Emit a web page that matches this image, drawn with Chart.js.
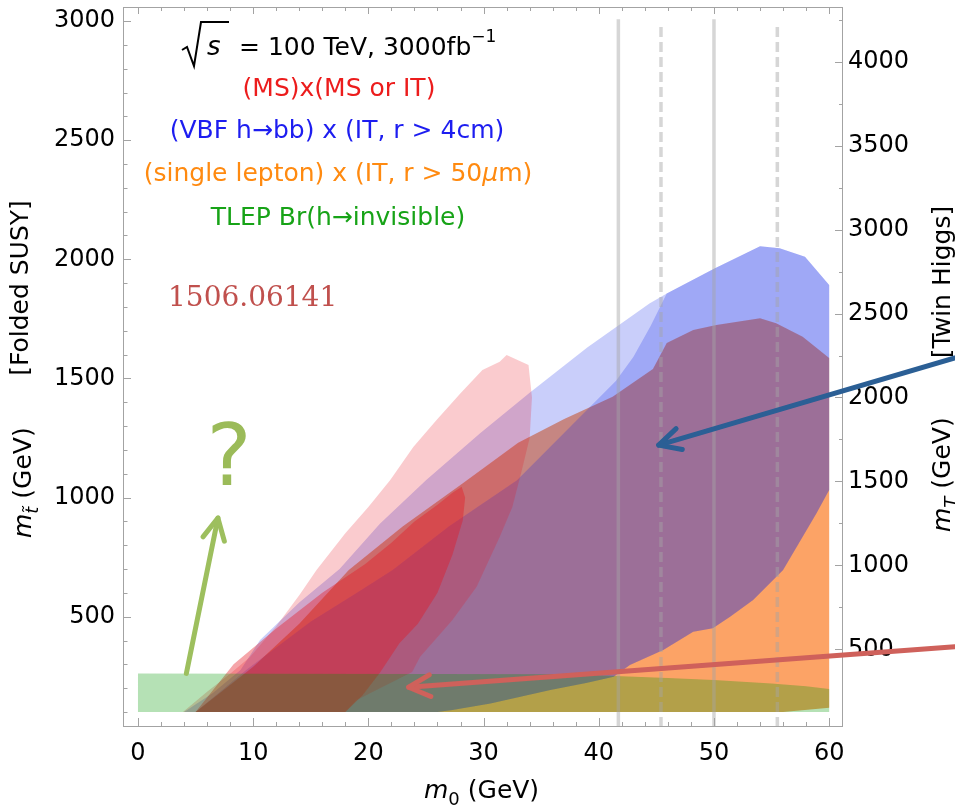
<!DOCTYPE html>
<html>
<head>
<meta charset="utf-8">
<title>Exotic Higgs decay reach</title>
<script src="https://cdn.jsdelivr.net/npm/chart.js@4.4.1/dist/chart.umd.min.js"></script>
<style>
  html, body { margin: 0; padding: 0; background: #fff; }
  #wrap { width: 955px; height: 808px; position: relative; }
</style>
</head>
<body>
<div id="wrap"><canvas id="reach"></canvas></div>
<script>
// reach regions, points are [m0, m_stop] in GeV, traced around each outline
const redOuter = [[3.9,100],[6,185],[8,260],[9.7,330],[12,460],[14,590],[15.5,696],[18,850],[20,960],[21.9,1074],[23.9,1212],[25.9,1325],[28,1438],[29.9,1535],[31.4,1570],[32,1598],[33.9,1556],[34.2,1420],[34,1250],[33.3,1110],[32.5,960],[31.4,834],[29.4,626],[27.3,486],[24.5,332],[23.8,268],[21,200],[19,150],[18,100]];
const redInner = [[5,100],[8.3,300],[12,450],[16,600],[19.7,720],[22,810],[24,900],[26,970],[27.3,1020],[28.1,1045],[28.4,1000],[28.2,905],[27.3,760],[26,600],[24.3,470],[22.7,389],[21,265],[19.5,170],[18,100]];
const blueOuter = [[4,100],[6.5,180],[8.9,276],[10.6,402],[14,560],[17.5,700],[21,890],[25,1073],[29.7,1270],[34,1440],[39,1630],[44.4,1815],[45.9,1857],[50,1960],[54,2055],[55.7,2046],[57.9,2011],[60,1892],[60,1032],[58.9,934],[57.7,836],[56,696],[53.4,570],[51.4,500],[49.9,452],[48.2,437],[45.6,360],[42.7,297],[41.3,248],[38.9,222],[35.8,192],[30.6,136],[27.3,108],[26,100]];
const blueInner = [[5,100],[9.5,280],[15,480],[19,600],[22.1,696],[27,880],[32.9,1073],[38,1320],[41.5,1490],[43,1590],[44.5,1720],[45.9,1857],[50,1960],[54,2055],[55.7,2046],[57.9,2011],[60,1892],[60,1032],[58.9,934],[57.7,836],[56,696],[53.4,570],[51.4,500],[49.9,452],[48.2,437],[45.6,360],[42.7,297],[41.3,248],[38.9,222],[35.8,192],[30.6,136],[27.3,108],[26,100]];
const orangeLepton = [[5,100],[10,290],[14,470],[18.3,696],[23,880],[28.2,1060],[33,1230],[37,1330],[41.2,1423],[44.7,1540],[45.9,1649],[48.2,1703],[50.2,1724],[54,1753],[55.4,1732],[57.7,1675],[60,1586],[60,118],[56,100]];
const greenTlep = [[0,100],[0,262],[38,258],[42,250],[46,243],[50,234],[55,220],[58,208],[60,196],[60,100]];

// m0 benchmark lines
const massLines = [41.7, 45.4, 50, 55.5];
const massLineDashed = [false, true, false, true];
const massLineTop = [3008, 2987, 3008, 2987];

// annotation arrows, [m0, m_stop] from tail to head
const arrowGreen = [[4.2, 262], [6.94, 914]];
const arrowBlue = [[70.9, 1586], [45.2, 1220]];
const arrowRed = [[70.9, 374], [23.5, 204]];

// axis ticks
const xTicks = [0, 10, 20, 30, 40, 50, 60];
const yTicks = [500, 1000, 1500, 2000, 2500, 3000];
const y2Ticks = [500, 1000, 1500, 2000, 2500, 3000, 3500, 4000];

const SANS = '"DejaVu Sans", sans-serif';
const tickFont = { family: '"DejaVu Sans"', size: 24 };

const region = (pts, color, order) => ({
  data: pts.map(([x, y]) => ({ x, y })),
  showLine: true,
  fill: 'shape',
  backgroundColor: color,
  borderColor: 'transparent',
  borderWidth: 0,
  pointRadius: 0,
  order
});

const datasets = [
  region(orangeLepton, 'rgba(250,120,30,0.68)', 20),
  region(blueOuter, 'rgba(10,30,230,0.22)', 19),
  region(blueInner, 'rgba(10,30,230,0.22)', 18),
  region(redOuter, 'rgba(230,20,30,0.22)', 17),
  region(redInner, 'rgba(230,20,30,0.385)', 16),
  region(greenTlep, 'rgba(0,150,0,0.29)', 15)
];
massLines.forEach((m, i) => {
  datasets.push({
    data: [{ x: m, y: 37 }, { x: m, y: massLineTop[i] }],
    showLine: true,
    fill: false,
    borderColor: 'rgba(165,165,165,0.45)',
    borderWidth: 3.5,
    borderDash: massLineDashed[i] ? [10, 5] : [],
    pointRadius: 0,
    order: 5
  });
});

function runs(ctx, parts, x, y) {
  let cx = x;
  for (const p of parts) {
    ctx.font = p.font;
    ctx.fillText(p.t, cx, y + (p.dy || 0));
    cx += ctx.measureText(p.t).width;
  }
  return cx;
}
function runsWidth(ctx, parts) {
  let w = 0;
  for (const p of parts) { ctx.font = p.font; w += ctx.measureText(p.t).width; }
  return w;
}
function centered(ctx, parts, cx, y, color) {
  ctx.fillStyle = color;
  runs(ctx, parts, cx - runsWidth(ctx, parts) / 2, y);
}

function arrow(ctx, x0, y0, x1, y1, color) {
  const ang = Math.atan2(y1 - y0, x1 - x0);
  const len = 24, spread = 27 * Math.PI / 180;
  ctx.strokeStyle = color;
  ctx.lineWidth = 5;
  ctx.lineCap = 'round';
  ctx.lineJoin = 'round';
  ctx.beginPath();
  ctx.moveTo(x0, y0);
  ctx.lineTo(x1, y1);
  ctx.stroke();
  ctx.beginPath();
  ctx.moveTo(x1 - len * Math.cos(ang - spread), y1 - len * Math.sin(ang - spread));
  ctx.lineTo(x1, y1);
  ctx.lineTo(x1 - len * Math.cos(ang + spread), y1 - len * Math.sin(ang + spread));
  ctx.stroke();
}

const annotate = {
  id: 'annotate',
  afterDraw(chart) {
    const { ctx, chartArea: a, scales: { x, y, y2 } } = chart;
    ctx.save();

    // frame and inward ticks
    ctx.strokeStyle = '#a3a3a3';
    ctx.lineWidth = 1;
    ctx.strokeRect(a.left + 0.5, a.top + 0.5, a.right - a.left - 1, a.bottom - a.top - 1);
    ctx.beginPath();
    for (let v = 0; v <= 60; v += 2) {
      const px = Math.round(x.getPixelForValue(v)) + 0.5;
      const major = v % 10 === 0;
      ctx.moveTo(px, a.bottom); ctx.lineTo(px, a.bottom - (major ? 9 : 5));
      ctx.moveTo(px, a.top); ctx.lineTo(px, a.top + (major ? 7 : 4));
    }
    for (let v = 100; v <= 3000; v += 100) {
      const py = Math.round(y.getPixelForValue(v)) + 0.5;
      ctx.moveTo(a.left, py); ctx.lineTo(a.left + (v % 500 === 0 ? 8 : 4.5), py);
    }
    for (let v = 500; v <= 4250; v += 250) {
      const py = Math.round(y2.getPixelForValue(v)) + 0.5;
      ctx.moveTo(a.right, py); ctx.lineTo(a.right - (v % 500 === 0 ? 8 : 4), py);
    }
    ctx.stroke();

    ctx.textBaseline = 'alphabetic';
    ctx.textAlign = 'left';

    // sqrt(s) header
    ctx.strokeStyle = '#000';
    ctx.lineWidth = 2;
    ctx.lineCap = 'butt';
    ctx.lineJoin = 'miter';
    ctx.beginPath();
    ctx.moveTo(182, 50); ctx.lineTo(187, 47); ctx.lineTo(194, 66); ctx.lineTo(201, 22); ctx.lineTo(229, 22);
    ctx.stroke();
    ctx.fillStyle = '#000';
    runs(ctx, [{ t: 's', font: 'italic 26px ' + SANS }], 207, 55);
    const end2 = runs(ctx, [{ t: '= 100 TeV, 3000fb', font: '25px ' + SANS }], 239, 55);
    runs(ctx, [{ t: '\u22121', font: '17px ' + SANS }], end2, 42);

    centered(ctx, [{ t: '(MS)x(MS or IT)', font: '25px ' + SANS }], 339, 96, '#ec1c1c');
    centered(ctx, [{ t: '(VBF h\u2192bb) x (IT, r > 4cm)', font: '25px ' + SANS }], 337, 138, '#1d1df0');
    centered(ctx, [
      { t: '(single lepton) x (IT, r > 50', font: '25px ' + SANS },
      { t: '\u03bc', font: 'italic 25px ' + SANS },
      { t: 'm)', font: '25px ' + SANS }
    ], 338, 181, '#ff8a10');
    centered(ctx, [{ t: 'TLEP Br(h\u2192invisible)', font: '25px ' + SANS }], 338, 225, '#17a317');

    ctx.fillStyle = '#c0504d';
    ctx.font = '28px "DejaVu Serif", serif';
    ctx.fillText('1506.06141', 168, 306);

    ctx.fillStyle = '#9bbb59';
    ctx.font = '85px ' + SANS;
    ctx.textAlign = 'center';
    ctx.fillText('?', 229, 485);
    ctx.textAlign = 'left';

    // axis titles
    ctx.fillStyle = '#000';
    runs(ctx, [
      { t: 'm', font: 'italic 25px ' + SANS },
      { t: '0', font: '18px ' + SANS, dy: 7 },
      { t: ' (GeV)', font: '25px ' + SANS }
    ], 424, 798);

    ctx.save();
    ctx.translate(31, 538);
    ctx.rotate(-Math.PI / 2);
    runs(ctx, [
      { t: 'm', font: 'italic 25px ' + SANS },
      { t: 't\u0303', font: 'italic 18px ' + SANS, dy: 7 },
      { t: ' (GeV)', font: '25px ' + SANS }
    ], 0, 0);
    ctx.restore();

    ctx.save();
    ctx.translate(28, 288);
    ctx.rotate(-Math.PI / 2);
    ctx.textAlign = 'center';
    ctx.font = '25px ' + SANS;
    ctx.fillText('[Folded SUSY]', 0, 0);
    ctx.restore();

    ctx.save();
    ctx.translate(950, 532);
    ctx.rotate(-Math.PI / 2);
    runs(ctx, [
      { t: 'm', font: 'italic 25px ' + SANS },
      { t: 'T', font: 'italic 18px ' + SANS, dy: 7 },
      { t: ' (GeV)', font: '25px ' + SANS }
    ], 0, 0);
    ctx.restore();

    ctx.save();
    ctx.translate(950, 282);
    ctx.rotate(-Math.PI / 2);
    ctx.textAlign = 'center';
    ctx.font = '25px ' + SANS;
    ctx.fillText('[Twin Higgs]', 0, 0);
    ctx.restore();

    // arrows
    const px = p => [x.getPixelForValue(p[0]), y.getPixelForValue(p[1])];
    [[arrowGreen, '#9dbf5e'], [arrowBlue, '#2b5f95'], [arrowRed, '#cf615b']].forEach(([ar, col]) => {
      const [x0, y0] = px(ar[0]);
      const [x1, y1] = px(ar[1]);
      arrow(ctx, x0, y0, x1, y1, col);
    });

    ctx.restore();
  }
};

const fixTicks = values => scale => { scale.ticks = values.map(v => ({ value: v })); };
const noPad = size => s => {
  if (size.w !== undefined) s.width = size.w;
  if (size.h !== undefined) s.height = size.h;
  s.paddingTop = 0; s.paddingBottom = 0; s.paddingLeft = 0; s.paddingRight = 0;
};
const plain = v => String(v);

new Chart(document.getElementById('reach'), {
  type: 'scatter',
  data: { datasets },
  options: {
    responsive: true,
    maintainAspectRatio: false,
    devicePixelRatio: 1,
    animation: false,
    events: [],
    layout: { padding: { top: 7, left: 0, right: 0, bottom: 0 } },
    plugins: { legend: { display: false }, tooltip: { enabled: false } },
    scales: {
      x: {
        type: 'linear', min: -1.3, max: 61.2,
        afterBuildTicks: fixTicks(xTicks),
        afterFit: noPad({ h: 81 }),
        grid: { display: false, drawTicks: false },
        border: { display: false },
        ticks: { font: tickFont, color: '#000', padding: 12, maxRotation: 0, autoSkip: false, callback: plain }
      },
      y: {
        type: 'linear', position: 'left', min: 37, max: 3059,
        afterBuildTicks: fixTicks(yTicks),
        afterFit: noPad({ w: 123 }),
        grid: { display: false, drawTicks: false },
        border: { display: false },
        ticks: { font: tickFont, color: '#000', padding: 8, autoSkip: false, callback: plain }
      },
      y2: {
        type: 'linear', position: 'right', min: 37, max: 4326,
        afterBuildTicks: fixTicks(y2Ticks),
        afterFit: noPad({ w: 112 }),
        grid: { display: false, drawTicks: false },
        border: { display: false },
        ticks: { font: tickFont, color: '#000', padding: 5, autoSkip: false, callback: plain }
      }
    }
  },
  plugins: [annotate]
});
</script>
</body>
</html>
